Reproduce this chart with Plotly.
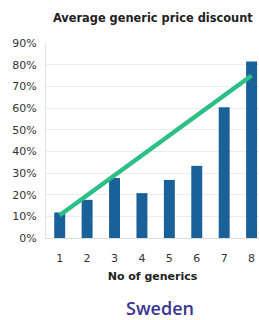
import plotly.graph_objects as go

categories = [1, 2, 3, 4, 5, 6, 7, 8]
discount = [11.8, 17.6, 27.7, 20.7, 26.8, 33.3, 60.3, 81.5]
trend_x = [1, 8]
trend_y = [10.5, 75.0]
y_ticks = [0, 10, 20, 30, 40, 50, 60, 70, 80, 90]
y_tick_labels = [f"{v}%" for v in y_ticks]

fig = go.Figure()
fig.add_trace(go.Bar(x=categories, y=discount, marker_color="#1b6199",
                     marker_line_width=0, width=0.4))
fig.add_trace(go.Scatter(x=trend_x, y=trend_y, mode="lines",
                         line=dict(color="#2dbf85", width=4.5)))

fig.update_layout(
    width=259, height=320,
    margin=dict(l=46, r=0, t=43, b=82, autoexpand=False),
    paper_bgcolor="white", plot_bgcolor="white",
    showlegend=False,
    font=dict(family="DejaVu Sans", size=11, color="#333333"),
    title=dict(text="<b>Average generic price discount</b>", x=0.59, xanchor="center",
               y=0.945, yanchor="middle", font=dict(size=11.4, color="#222222")),
    bargap=0.6,
)
fig.update_xaxes(range=[0.5, 8.27], tickvals=categories, ticktext=[str(c) for c in categories],
                 showgrid=False, showline=True, linecolor="#dddddd", linewidth=1,
                 ticks="outside", ticklen=10, tickcolor="rgba(0,0,0,0)",
                 tickfont=dict(size=11, color="#333333"), automargin=False,
                 title=dict(text="<b>No of generics</b>", font=dict(size=11, color="#222222"), standoff=8))
fig.update_yaxes(range=[0, 90], tickvals=y_ticks, ticktext=y_tick_labels,
                 showgrid=True, gridcolor="#ececec", gridwidth=1, automargin=False,
                 showline=True, linecolor="#e4e4e4", zeroline=False,
                 ticks="outside", ticklen=6, tickcolor="rgba(0,0,0,0)",
                 tickfont=dict(size=11, color="#333333"))
fig.add_annotation(text="Sweden", x=0.535, xref="paper", y=-0.36, yref="paper",
                   showarrow=False,
                   font=dict(family="Open Sans", size=18, color="#3a3590", weight=600),
                   xanchor="center", yanchor="middle")

fig.write_html("out.html", config={"displayModeBar": False},
               post_script="document.body.style.margin='0';document.body.style.overflow='hidden';")
